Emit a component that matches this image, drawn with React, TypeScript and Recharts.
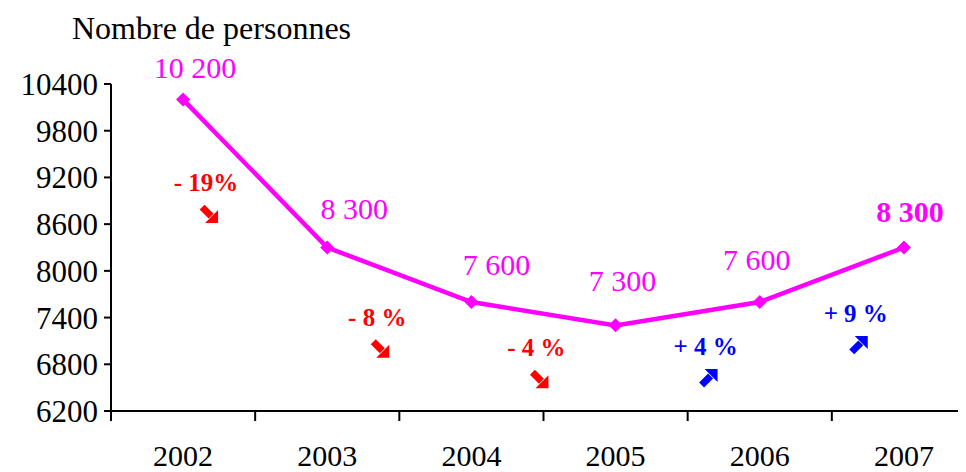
import React from "react";
import { LineChart, Line, XAxis, YAxis } from "recharts";

const years = ["2002", "2003", "2004", "2005", "2006", "2007"];
const persons = [10200, 8300, 7600, 7300, 7600, 8300];
const valueLabels = ["10 200", "8 300", "7 600", "7 300", "7 600", "8 300"];
// change from one year to the next, drawn after the earlier year
const changes = ["- 19%", "- 8 %", "- 4 %", "+ 4 %", "+ 9 %", null];
const changeLevel = [9140, 7410, 7020, 7035, 7460, null];
const yTicks = [6200, 6800, 7400, 8000, 8600, 9200, 9800, 10400];

// layout
const W = 1000;
const H = 464;
const LEFT = 103;
const RIGHT = 32;
const TOP = 76;
const AXIS_Y = 403;
const BAND = (W - LEFT - RIGHT) / years.length;
const noteDx = [23, 50, 65, 90, 96, 0];
const labelDx = [12, 27, 25, 7, -3, 6];
const labelDy = [22, 29, 27, 34, 32, 26];

const MAGENTA = "#FF00FF";
const FONT = "Liberation Serif, Times New Roman, serif";

const data = years.map((y, i) => ({
  year: y,
  persons: persons[i],
  note: changeLevel[i],
}));

const Diamond = (props: any) => {
  const { cx, cy } = props;
  const r = 7;
  return (
    <polygon
      points={`${cx},${cy - r} ${cx + r},${cy} ${cx},${cy + r} ${cx - r},${cy}`}
      fill={MAGENTA}
    />
  );
};

const ValueLabel = (props: any) => {
  const { x, y, index } = props;
  const last = index === years.length - 1;
  return (
    <text
      x={x + labelDx[index]}
      y={y - labelDy[index]}
      textAnchor="middle"
      fill={MAGENTA}
      fontSize={30}
      fontWeight={last ? "bold" : "normal"}
      fontFamily={FONT}
    >
      {valueLabels[index]}
    </text>
  );
};

const Arrow = ({ cx, cy, up, color }: any) => {
  const s = up ? -1 : 1;
  return (
    <g transform={`translate(${cx},${cy}) scale(1,${s})`}>
      <line x1={-7} y1={-7} x2={2} y2={2} stroke={color} strokeWidth={7} />
      <polygon points="9,9 9,-4 -4,9" fill={color} />
    </g>
  );
};

const NoteLabel = (props: any) => {
  const { x, y, index } = props;
  const txt = changes[index];
  if (!txt || y == null) return null;
  const up = txt.startsWith("+");
  const color = up ? "#0000FF" : "#FF0000";
  const cx = x + noteDx[index];
  return (
    <g>
      <text
        x={cx}
        y={y + 9}
        textAnchor="middle"
        fill={color}
        fontSize={25}
        fontWeight="bold"
        fontFamily={FONT}
      >
        {txt}
      </text>
      <Arrow cx={cx + 3} cy={y + 32} up={up} color={color} />
    </g>
  );
};

const YearTick = (props: any) => {
  const { x, payload } = props;
  const bx = x - BAND / 2;
  return (
    <g>
      <line x1={bx} y1={AXIS_Y} x2={bx} y2={AXIS_Y + 10} stroke="#000" strokeWidth={2} />
      <text
        x={x}
        y={AXIS_Y + 55}
        textAnchor="middle"
        fill="#000"
        fontSize={30}
        fontFamily={FONT}
      >
        {payload.value}
      </text>
    </g>
  );
};

export default function App() {
  return (
    <div style={{ position: "relative", width: 958, height: H, overflow: "hidden", background: "#fff" }}>
      <div
        style={{
          position: "absolute",
          left: 64,
          top: 5,
          fontFamily: FONT,
          fontSize: 32,
          lineHeight: "31px",
          color: "#000",
          whiteSpace: "nowrap",
        }}
      >
        Nombre de personnes
      </div>
      <LineChart
        width={W}
        height={H}
        data={data}
        margin={{ top: TOP, right: RIGHT, bottom: 0, left: 0 }}
      >
        <XAxis
          dataKey="year"
          scale="band"
          height={H - AXIS_Y}
          axisLine={{ stroke: "#000", strokeWidth: 2 }}
          tickLine={false}
          tick={<YearTick />}
          interval={0}
        />
        <YAxis
          width={LEFT}
          domain={[6200, 10400]}
          ticks={yTicks}
          interval={0}
          axisLine={{ stroke: "#000", strokeWidth: 2 }}
          tickLine={{ stroke: "#000", strokeWidth: 2 }}
          tickSize={7}
          tickMargin={6}
          tick={{ fill: "#000", fontSize: 31, fontFamily: FONT }}
        />
        <Line
          dataKey="note"
          stroke="none"
          dot={false}
          activeDot={false}
          label={<NoteLabel />}
          isAnimationActive={false}
        />
        <Line
          dataKey="persons"
          stroke={MAGENTA}
          strokeWidth={4.5}
          dot={<Diamond />}
          activeDot={false}
          label={<ValueLabel />}
          isAnimationActive={false}
        />
      </LineChart>
    </div>
  );
}
